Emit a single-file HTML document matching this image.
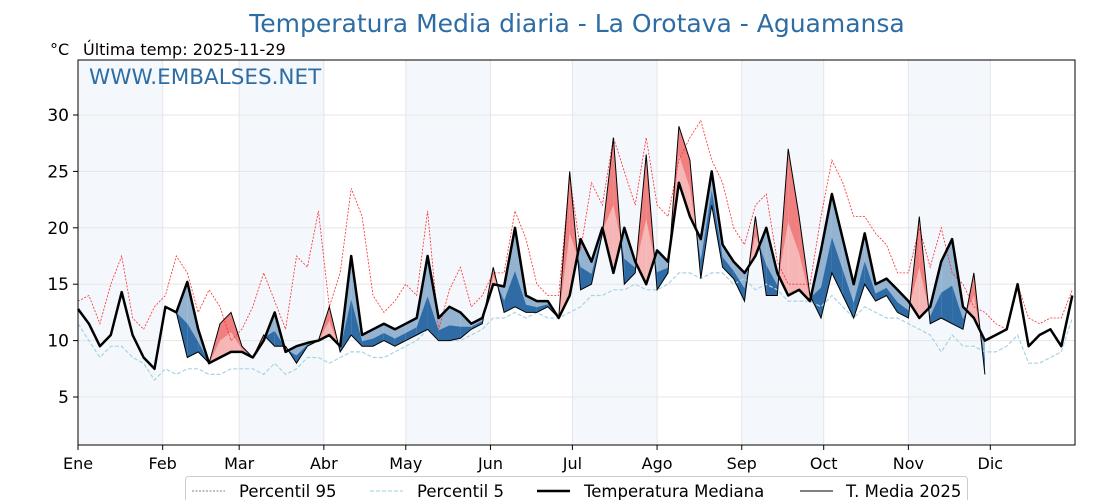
<!DOCTYPE html>
<html><head><meta charset="utf-8"><style>
html,body{margin:0;padding:0;background:#fff;}
svg{display:block;font-family:"DejaVu Sans","Liberation Sans",sans-serif;}
</style></head><body>
<svg id="chart" width="1120" height="500" viewBox="0 0 1120 500">
<text x="577" y="32" text-anchor="middle" font-size="25" fill="#2e6da4">Temperatura Media diaria - La Orotava - Aguamansa</text>
<text x="50" y="55" font-size="16" fill="#000">°C</text>
<text x="83" y="55" font-size="16" fill="#000">Última temp: 2025-11-29</text>
<g id="bands"></g>
<g id="grid"></g>
<g id="fills"></g>
<g id="lines"></g>
<rect x="78" y="60" width="997" height="385" fill="none" stroke="#000" stroke-width="1"/>
<text x="89" y="84" font-size="21.5" fill="#2e6da4">WWW.EMBALSES.NET</text>
<g id="axes"></g>
<g>
<rect x="185.5" y="476.5" width="782" height="30" rx="3" fill="#fff" stroke="#ccc"/>
<line x1="192" y1="491" x2="225" y2="491" stroke="#555" stroke-width="0.8" stroke-dasharray="2,1.5"/>
<text x="239" y="497" font-size="16.5">Percentil 95</text>
<line x1="370" y1="491" x2="403" y2="491" stroke="#add8e6" stroke-width="1.2" stroke-dasharray="4,2"/>
<text x="417" y="497" font-size="16.5">Percentil 5</text>
<line x1="537" y1="491" x2="570" y2="491" stroke="#000" stroke-width="2.5"/>
<text x="584" y="497" font-size="16.5">Temperatura Mediana</text>
<line x1="800" y1="491" x2="833" y2="491" stroke="#000" stroke-width="1"/>
<text x="846" y="497" font-size="16.5">T. Media 2025</text>
</g>
</svg>
<script>
const monthLabels=["Ene","Feb","Mar","Abr","May","Jun","Jul","Ago","Sep","Oct","Nov","Dic"];
const monthStarts=[0,31,59,90,120,151,181,212,243,273,304,334];
const yTicks=[5,10,15,20,25,30];
const step=4;
const median=[12.8,11.5,9.5,10.5,14.3,10.5,8.5,7.5,13,12.5,15.2,11,8,8.5,9,9,8.5,10,12.5,9,9.5,9.8,10,10.5,9.5,17.5,10.5,11,11.5,11,11.5,12,17.5,12,13,12.5,11.5,12,15,14.8,20,14,13.5,13.5,12,14,19,17,20,16,20,17,15,18,17,24,21,19,25,18.5,17,16,17.5,20,16,14,14.5,13.5,18,23,19,15,19.5,15,15.5,14.5,13.5,12,13,17,19,13,12,10,10.5,11,15,9.5,10.5,11,9.5,14];
const t2025=[12.8,11.5,9.5,10.5,14.3,10.5,8.5,7.5,13,12.5,8.5,9,8,11.5,12.5,9.5,8.5,10.5,9.5,9.5,8,9.5,10,13,9,10.5,9.5,9.5,10,9.5,10,10.5,11,10,10,10.2,11,11.5,16.5,12.5,13,12.5,12.5,13,12,25,14.5,15,19.5,28,15,16,26.5,14.5,16,29,26,15.5,22,16.5,15.5,13.5,21,14,14,27,21,14,12,16,14,12,15,13.5,14,12.5,12,21,11.5,12,11.5,11,16,7];
const p95=[13.5,14,11.5,15,17.5,12,11,13,14,17.5,16,12.5,14.5,13,10,11,13,16,13.5,11,17.5,16.5,21.5,13,16,23.5,21,14,12.5,13.5,15,14,21.5,11,14.5,16.5,13,14,16,16,21.5,19,15,14,14,24.5,18,24,22,28,25,22,28,22,21,26,28,29.5,26,24,20,18.5,22,23,17,15,15,15,21,26,24,21,21,19.5,18.5,16,16,20,16.5,20,16,15,13,12.5,11.5,11,15,12,11.5,12,12,14.5];
const p5=[11.5,10,8.5,9.5,9.5,8.5,8,6.5,7.5,7,7.5,7.5,7,7,7.5,7.5,7.5,7,8,7,7.5,8.5,8.5,8,8.5,9,9,8.5,8.5,9,9.5,10,11,10,10,10,10.5,11,12,12,12.5,12,12.5,12,12,12.5,13,14,14,14.5,14.5,15,14.5,14.5,15,16,16,15.5,16,16,15,15.5,14.5,15,14.5,13.5,13.5,13.5,13,14,13,12,13,12.5,12,12,11.5,11,10.5,9,10.5,9.5,9.5,9,9,9.5,10.5,8,8,8.5,9,12];

const NS="http://www.w3.org/2000/svg";
const X0=78,X1=1075,Y0=60,Y1=445;
function xs(d){return X0+d*(X1-X0)/365;}
function ys(v){return 453.4-v*11.28;}
function mk(tag,attrs,parent){const e=document.createElementNS(NS,tag);for(const k in attrs)e.setAttribute(k,attrs[k]);parent.appendChild(e);return e;}
const bands=document.getElementById('bands'),grid=document.getElementById('grid'),fills=document.getElementById('fills'),lines=document.getElementById('lines'),axes=document.getElementById('axes');
monthStarts.forEach((m,i)=>{
  if(i%2===0){const end=i+1<12?monthStarts[i+1]:365;
    const r=mk('rect',{x:xs(m),y:Y0,width:xs(end)-xs(m),height:Y1-Y0,fill:'#f4f8fc'},bands);
    
    }
  const g=mk('line',{x1:xs(m),x2:xs(m),y1:Y0,y2:Y1,stroke:'#e3e6ea','stroke-width':1},grid);
  
  
  const t=mk('line',{x1:xs(m),x2:xs(m),y1:Y1,y2:Y1+5,stroke:'#000'},axes);
  
  
  const l=mk('text',{x:xs(m),y:469,'text-anchor':'middle','font-size':16},axes);
  l.textContent=monthLabels[i];
  
  
});
yTicks.forEach(v=>{
  const g=mk('line',{x1:X0,x2:X1,y1:ys(v),y2:ys(v),stroke:'#e6e6e6','stroke-width':1},grid);
  
  
  const t=mk('line',{x1:X0-5,x2:X0,y1:ys(v),y2:ys(v),stroke:'#000'},axes);
  
  
  const l=mk('text',{x:X0-9,y:ys(v)+6,'text-anchor':'end','font-size':17},axes);
  l.textContent=v;
  
  
});
function poly(pts,color){
  const p=mk('polygon',{points:pts.map(q=>q[0].toFixed(1)+','+q[1].toFixed(1)).join(' '),fill:color},fills);
  
  
}
function band(d0,a0,b0,d1,a1,b1,color){poly([[xs(d0),ys(a0)],[xs(d1),ys(a1)],[xs(d1),ys(b1)],[xs(d0),ys(b0)]],color);}
function seg(d0,m0,a0,d1,m1,a1){
  const up=(a0+a1)/2>(m0+m1)/2;
  if(up){band(d0,m0,a0,d1,m1,a1,'#f6b6b6');band(d0,a0,a0-0.5*(a0-m0),d1,a1,a1-0.5*(a1-m1),'#f08080');}
  else{band(d0,m0,a0,d1,m1,a1,'#93b3d0');band(d0,a0,a0+0.45*(m0-a0),d1,a1,a1+0.45*(m1-a1),'#2f6ca6');}
}
for(let i=0;i<t2025.length-1;i++){
  const d0=i*step,d1=(i+1)*step;
  const m0=median[i],m1=median[i+1],a0=t2025[i],a1=t2025[i+1];
  const e0=a0-m0,e1=a1-m1;
  if(e0*e1<0){const f=e0/(e0-e1);const dc=d0+f*(d1-d0);const mc=m0+f*(m1-m0);
    seg(d0,m0,a0,dc,mc,mc);seg(dc,mc,mc,d1,m1,a1);}
  else seg(d0,m0,a0,d1,m1,a1);
}
function path(arr,attrs,name){
  const d=arr.map((v,i)=>(i?'L':'M')+xs(i*step).toFixed(1)+','+ys(v).toFixed(1)).join('');
  const p=mk('path',Object.assign({d:d,fill:'none'},attrs),lines);
  
  
}
path(p95,{stroke:'#ff2a2a','stroke-width':0.8,'stroke-dasharray':'2,1.5'},'percentile-95-line');
path(p5,{stroke:'#a9d3e3','stroke-width':1.2,'stroke-dasharray':'4,2'},'percentile-5-line');
path(median,{stroke:'#000','stroke-width':2.5,'stroke-linejoin':'round'},'median-line');
path(t2025,{stroke:'#000','stroke-width':1},'temp-2025-line');
</script>
</body></html>
